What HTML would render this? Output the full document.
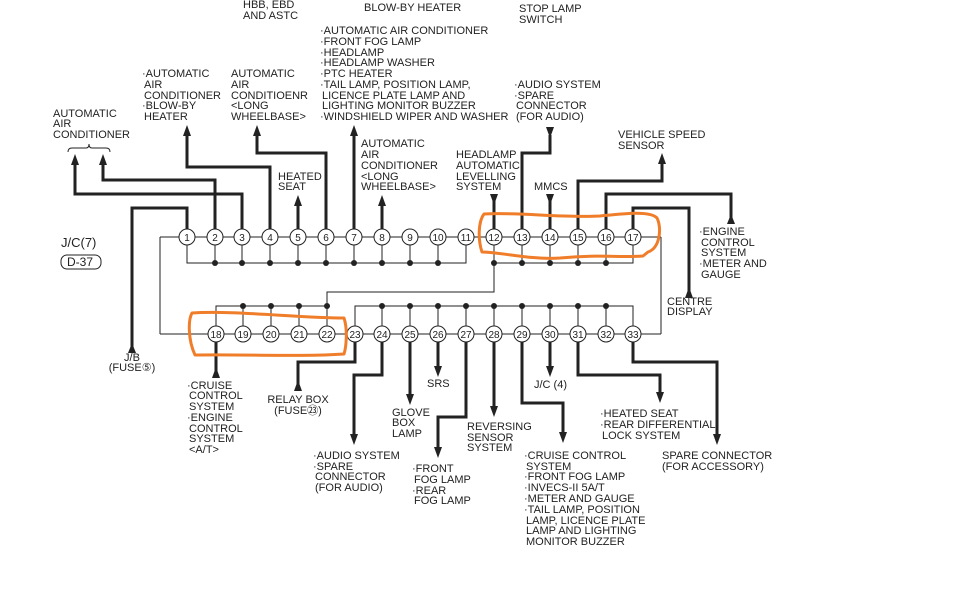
<!DOCTYPE html>
<html><head><meta charset="utf-8"><style>
html,body{margin:0;padding:0;background:#fff;}
svg{display:block;}
text{font-family:"Liberation Sans",sans-serif;font-size:11px;fill:#222;}
.n{font-size:10px;text-anchor:middle;}
</style></head><body>
<svg width="960" height="600" viewBox="0 0 960 600" xmlns="http://www.w3.org/2000/svg">
<rect width="960" height="600" fill="#fff"/>
<!-- thin wiring -->
<g stroke="#222" stroke-width="1" fill="none">
<line x1="160" y1="237" x2="633" y2="237"/>
<line x1="160" y1="334" x2="661" y2="334"/>
<line x1="160" y1="237" x2="160" y2="334"/>
<line x1="633" y1="237" x2="661" y2="237"/>
<line x1="661" y1="237" x2="661" y2="334"/>
<polyline points="187,237 187,263 466,263 466,237"/>
<polyline points="494,237 494,263 633,263 633,237"/>
<polyline points="494,263 494,292 327,292 327,306"/>
<polyline points="216,334 216,306 327,306 327,334"/>
<polyline points="355,334 355,306 633,306 633,334"/>
<line x1="215" y1="237" x2="215" y2="263"/><line x1="242" y1="237" x2="242" y2="263"/><line x1="270" y1="237" x2="270" y2="263"/><line x1="298" y1="237" x2="298" y2="263"/><line x1="326" y1="237" x2="326" y2="263"/><line x1="354" y1="237" x2="354" y2="263"/><line x1="382" y1="237" x2="382" y2="263"/><line x1="410" y1="237" x2="410" y2="263"/><line x1="438" y1="237" x2="438" y2="263"/>
<line x1="522" y1="237" x2="522" y2="263"/><line x1="550" y1="237" x2="550" y2="263"/><line x1="578" y1="237" x2="578" y2="263"/><line x1="606" y1="237" x2="606" y2="263"/>
<line x1="243" y1="306" x2="243" y2="334"/><line x1="271" y1="306" x2="271" y2="334"/><line x1="299" y1="306" x2="299" y2="334"/>
<line x1="382" y1="306" x2="382" y2="334"/><line x1="410" y1="306" x2="410" y2="334"/><line x1="438" y1="306" x2="438" y2="334"/><line x1="466" y1="306" x2="466" y2="334"/><line x1="494" y1="306" x2="494" y2="334"/><line x1="522" y1="306" x2="522" y2="334"/><line x1="550" y1="306" x2="550" y2="334"/><line x1="578" y1="306" x2="578" y2="334"/><line x1="606" y1="306" x2="606" y2="334"/>
</g>
<!-- dots -->
<g fill="#222">
<circle cx="215" cy="263" r="3"/><circle cx="242" cy="263" r="3"/><circle cx="270" cy="263" r="3"/><circle cx="298" cy="263" r="3"/><circle cx="326" cy="263" r="3"/><circle cx="354" cy="263" r="3"/><circle cx="382" cy="263" r="3"/><circle cx="410" cy="263" r="3"/><circle cx="438" cy="263" r="3"/>
<circle cx="494" cy="263" r="3"/><circle cx="522" cy="263" r="3"/><circle cx="550" cy="263" r="3"/><circle cx="578" cy="263" r="3"/><circle cx="606" cy="263" r="3"/>
<circle cx="243" cy="306" r="3"/><circle cx="271" cy="306" r="3"/><circle cx="299" cy="306" r="3"/><circle cx="327" cy="306" r="3"/>
<circle cx="382" cy="306" r="3"/><circle cx="410" cy="306" r="3"/><circle cx="438" cy="306" r="3"/><circle cx="466" cy="306" r="3"/><circle cx="494" cy="306" r="3"/><circle cx="522" cy="306" r="3"/><circle cx="550" cy="306" r="3"/><circle cx="578" cy="306" r="3"/><circle cx="606" cy="306" r="3"/>
</g>
<!-- thick wires -->
<g stroke="#222" stroke-width="3" fill="none" stroke-linejoin="miter">
<polyline points="187,230 187,208 132,208 132,348"/>
<polyline points="215,230 215,180 103,180 103,160"/>
<polyline points="242,230 242,194 75,194 75,160"/>
<polyline points="270,230 270,167 187,167 187,130"/>
<polyline points="298,230 298,200"/>
<polyline points="326,230 326,153 257,153 257,130"/>
<polyline points="354,230 354,130"/>
<polyline points="382,230 382,200"/>
<polyline points="494,230 494,200"/>
<polyline points="522,230 522,153 550,153 550,135"/>
<polyline points="550,230 550,200"/>
<polyline points="578,230 578,181 662,181 662,158"/>
<polyline points="606,230 606,194 731,194 731,218"/>
<polyline points="633,230 633,208 689,208 689,292"/>
<polyline points="216,342 216,372"/>
<polyline points="355,342 355,362 298,362 298,386"/>
<polyline points="382,342 382,375 354,375 354,438"/>
<polyline points="410,342 410,398"/>
<polyline points="438,342 438,368"/>
<polyline points="466,342 466,417 438,417 438,451"/>
<polyline points="494,342 494,410"/>
<polyline points="522,342 522,403 563,403 563,436"/>
<polyline points="550,342 550,368"/>
<polyline points="578,342 578,375 660,375 660,396"/>
<polyline points="633,342 633,362 717,362 717,438"/>
</g>
<!-- arrows -->
<g fill="#222">
<polygon points="128,353 136,353 132,343"/>
<polygon points="99,165 107,165 103,154"/>
<polygon points="71,165 79,165 75,154"/>
<polygon points="183,136 191,136 187,125"/>
<polygon points="294,206 302,206 298,195"/>
<polygon points="253,136 261,136 257,125"/>
<polygon points="350,136 358,136 354,125"/>
<polygon points="378,206 386,206 382,195"/>
<polygon points="490,194 498,194 494,205"/>
<polygon points="546,127 554,127 550,138"/>
<polygon points="546,194 554,194 550,205"/>
<polygon points="658,164 666,164 662,153"/>
<polygon points="727,224 735,224 731,214"/>
<polygon points="685,298 693,298 689,287"/>
<polygon points="212,378 220,378 216,367"/>
<polygon points="294,391 302,391 298,380"/>
<polygon points="350,434 358,434 354,445"/>
<polygon points="406,394 414,394 410,405"/>
<polygon points="434,366 442,366 438,377"/>
<polygon points="434,447 442,447 438,458"/>
<polygon points="490,406 498,406 494,417"/>
<polygon points="559,432 567,432 563,443"/>
<polygon points="546,366 554,366 550,377"/>
<polygon points="656,392 664,392 660,403"/>
<polygon points="713,434 721,434 717,445"/>
</g>
<!-- pins -->
<g stroke="#222" stroke-width="1" fill="#fff">
<circle cx="187" cy="237" r="8"/><circle cx="215" cy="237" r="8"/><circle cx="242" cy="237" r="8"/><circle cx="270" cy="237" r="8"/><circle cx="298" cy="237" r="8"/><circle cx="326" cy="237" r="8"/><circle cx="354" cy="237" r="8"/><circle cx="382" cy="237" r="8"/><circle cx="410" cy="237" r="8"/><circle cx="438" cy="237" r="8"/><circle cx="466" cy="237" r="8"/><circle cx="494" cy="237" r="8"/><circle cx="522" cy="237" r="8"/><circle cx="550" cy="237" r="8"/><circle cx="578" cy="237" r="8"/><circle cx="606" cy="237" r="8"/><circle cx="633" cy="237" r="8"/>
<circle cx="216" cy="334" r="8"/><circle cx="243" cy="334" r="8"/><circle cx="271" cy="334" r="8"/><circle cx="299" cy="334" r="8"/><circle cx="327" cy="334" r="8"/><circle cx="355" cy="334" r="8"/><circle cx="382" cy="334" r="8"/><circle cx="410" cy="334" r="8"/><circle cx="438" cy="334" r="8"/><circle cx="466" cy="334" r="8"/><circle cx="494" cy="334" r="8"/><circle cx="522" cy="334" r="8"/><circle cx="550" cy="334" r="8"/><circle cx="578" cy="334" r="8"/><circle cx="606" cy="334" r="8"/><circle cx="633" cy="334" r="8"/>
</g>
<g class="n">
<text class="n" x="187" y="241">1</text><text class="n" x="215" y="241">2</text><text class="n" x="242" y="241">3</text><text class="n" x="270" y="241">4</text><text class="n" x="298" y="241">5</text><text class="n" x="326" y="241">6</text><text class="n" x="354" y="241">7</text><text class="n" x="382" y="241">8</text><text class="n" x="410" y="241">9</text><text class="n" x="438" y="241">10</text><text class="n" x="466" y="241">11</text><text class="n" x="494" y="241">12</text><text class="n" x="522" y="241">13</text><text class="n" x="550" y="241">14</text><text class="n" x="578" y="241">15</text><text class="n" x="606" y="241">16</text><text class="n" x="633" y="241">17</text>
<text class="n" x="216" y="338">18</text><text class="n" x="243" y="338">19</text><text class="n" x="271" y="338">20</text><text class="n" x="299" y="338">21</text><text class="n" x="327" y="338">22</text><text class="n" x="355" y="338">23</text><text class="n" x="382" y="338">24</text><text class="n" x="410" y="338">25</text><text class="n" x="438" y="338">26</text><text class="n" x="466" y="338">27</text><text class="n" x="494" y="338">28</text><text class="n" x="522" y="338">29</text><text class="n" x="550" y="338">30</text><text class="n" x="578" y="338">31</text><text class="n" x="606" y="338">32</text><text class="n" x="633" y="338">33</text>
</g>
<!-- J/C label -->
<text x="61" y="247" style="font-size:13px">J/C(7)</text>
<rect x="61" y="255" width="40" height="14" rx="6" fill="none" stroke="#222" stroke-width="1"/>
<text x="67" y="266" style="font-size:12px">D-37</text>
<!-- brace -->
<path d="M68,152 Q68,148 72,148 L86,148 Q89,148 89,144 Q89,148 92,148 L106,148 Q110,148 110,152" fill="none" stroke="#222" stroke-width="1"/>
<!-- orange highlights -->
<g stroke="#f07d2a" stroke-width="3" fill="none" stroke-linejoin="round">
<path d="M484,214 C520,212 560,218 600,216 C620,214 650,210 657,218 C662,228 660,248 648,252 L643,256 C620,258 600,254 560,258 C530,260 500,252 482,252 C478,240 478,222 484,214 Z"/>
<path d="M192,313 C230,310 300,318 344,318 C348,330 346,348 344,354 C300,357 240,354 195,355 C188,340 188,320 192,313 Z"/>
</g>
<!-- labels -->
<text x="53" y="117">AUTOMATIC</text><text x="53" y="127">AIR</text><text x="53" y="138">CONDITIONER</text>
<text x="142" y="77">·AUTOMATIC</text><text x="144" y="88">AIR</text><text x="144" y="99">CONDITIONER</text><text x="142" y="109">·BLOW-BY</text><text x="144" y="120">HEATER</text>
<text x="231" y="77">AUTOMATIC</text><text x="231" y="88">AIR</text><text x="231" y="99">CONDITIOENR</text><text x="231" y="109">&lt;LONG</text><text x="231" y="120">WHEELBASE&gt;</text>
<text x="243" y="8">HBB, EBD</text><text x="243" y="19">AND ASTC</text>
<text x="364" y="11">BLOW-BY HEATER</text>
<text x="320" y="34">·AUTOMATIC AIR CONDITIONER</text><text x="320" y="45">·FRONT FOG LAMP</text><text x="320" y="56">·HEADLAMP</text><text x="320" y="66">·HEADLAMP WASHER</text><text x="320" y="77">·PTC HEATER</text><text x="320" y="88">·TAIL LAMP, POSITION LAMP,</text><text x="322" y="99">LICENCE PLATE LAMP AND</text><text x="322" y="109">LIGHTING MONITOR BUZZER</text><text x="320" y="120">·WINDSHIELD WIPER AND WASHER</text>
<text x="278" y="180">HEATED</text><text x="278" y="190">SEAT</text>
<text x="361" y="147">AUTOMATIC</text><text x="361" y="158">AIR</text><text x="361" y="169">CONDITIONER</text><text x="361" y="180">&lt;LONG</text><text x="361" y="190">WHEELBASE&gt;</text>
<text x="456" y="158">HEADLAMP</text><text x="456" y="169">AUTOMATIC</text><text x="456" y="180">LEVELLING</text><text x="456" y="190">SYSTEM</text>
<text x="519" y="12">STOP LAMP</text><text x="519" y="23">SWITCH</text>
<text x="514" y="88">·AUDIO SYSTEM</text><text x="514" y="99">·SPARE</text><text x="516" y="109">CONNECTOR</text><text x="516" y="120">(FOR AUDIO)</text>
<text x="534" y="190">MMCS</text>
<text x="618" y="138">VEHICLE SPEED</text><text x="618" y="149">SENSOR</text>
<text x="699" y="235">·ENGINE</text><text x="701" y="246">CONTROL</text><text x="701" y="256">SYSTEM</text><text x="699" y="267">·METER AND</text><text x="701" y="278">GAUGE</text>
<text x="667" y="305">CENTRE</text><text x="667" y="315">DISPLAY</text>
<text x="132" y="361" text-anchor="middle">J/B</text><text x="132" y="371" text-anchor="middle">(FUSE⑤)</text>
<text x="187" y="389">·CRUISE</text><text x="189" y="399">CONTROL</text><text x="189" y="410">SYSTEM</text><text x="187" y="421">·ENGINE</text><text x="189" y="432">CONTROL</text><text x="189" y="442">SYSTEM</text><text x="189" y="453">&lt;A/T&gt;</text>
<text x="298" y="403" text-anchor="middle">RELAY BOX</text><text x="298" y="414" text-anchor="middle">(FUSE㉓)</text>
<text x="392" y="416">GLOVE</text><text x="392" y="426">BOX</text><text x="392" y="437">LAMP</text>
<text x="427" y="387">SRS</text>
<text x="313" y="459">·AUDIO SYSTEM</text><text x="313" y="470">·SPARE</text><text x="315" y="480">CONNECTOR</text><text x="315" y="491">(FOR AUDIO)</text>
<text x="412" y="472">·FRONT</text><text x="414" y="483">FOG LAMP</text><text x="412" y="494">·REAR</text><text x="414" y="504">FOG LAMP</text>
<text x="467" y="430">REVERSING</text><text x="467" y="441">SENSOR</text><text x="467" y="451">SYSTEM</text>
<text x="534" y="388">J/C (4)</text>
<text x="524" y="459">·CRUISE CONTROL</text><text x="526" y="470">SYSTEM</text><text x="524" y="480">·FRONT FOG LAMP</text><text x="524" y="491">·INVECS-II 5A/T</text><text x="524" y="502">·METER AND GAUGE</text><text x="524" y="513">·TAIL LAMP, POSITION</text><text x="526" y="524">LAMP, LICENCE PLATE</text><text x="526" y="534">LAMP AND LIGHTING</text><text x="526" y="545">MONITOR BUZZER</text>
<text x="600" y="417">·HEATED SEAT</text><text x="600" y="428">·REAR DIFFERENTIAL</text><text x="602" y="439">LOCK SYSTEM</text>
<text x="662" y="459">SPARE CONNECTOR</text><text x="662" y="470">(FOR ACCESSORY)</text>
</svg>
</body></html>
